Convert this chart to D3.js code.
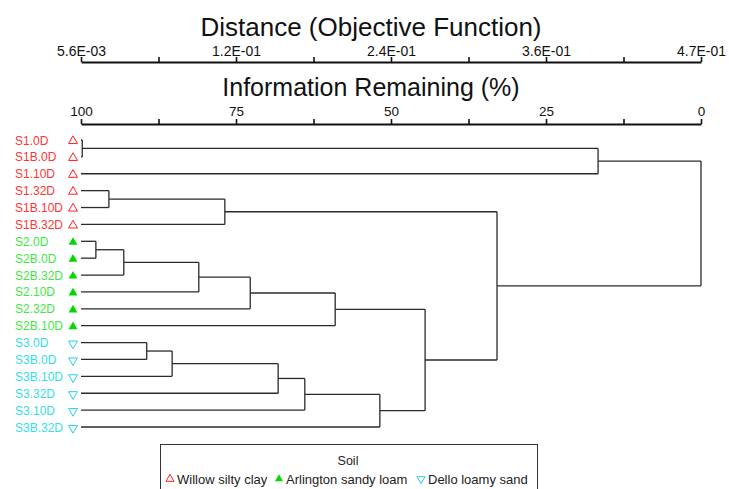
<!DOCTYPE html>
<html>
<head>
<meta charset="utf-8">
<script src="https://cdn.jsdelivr.net/npm/d3@7/dist/d3.min.js"></script>
<style>
  html, body { margin: 0; padding: 0; background: #fff; }
  svg { display: block; font-family: "Liberation Sans", Arial, sans-serif; }
</style>
</head>
<body>
<svg id="chart" width="729" height="489"></svg>
<script>
// Sample labels in dendrogram order
const leaves = ["S1.0D","S1B.0D","S1.10D","S1.32D","S1B.10D","S1B.32D",
  "S2.0D","S2B.0D","S2B.32D","S2.10D","S2.32D","S2B.10D",
  "S3.0D","S3B.0D","S3B.10D","S3.32D","S3.10D","S3B.32D"];
// Soil group of each sample (index into soils)
const leafSoil = [0,0,0,0,0,0, 1,1,1,1,1,1, 2,2,2,2,2,2];
const soils = ["Willow silty clay","Arlington sandy loam","Dello loamy sand"];

// Agglomeration steps: [childA, childB, information remaining %]
// indices < 18 are samples, >= 18 refer to earlier merges
const mergeA = [0, 6, 3, 19, 12, 22, 21, 20, 24, 23, 27, 26, 28, 29, 25, 18, 33];
const mergeB = [1, 7, 4,  8, 13, 14,  9,  5, 10, 15, 16, 11, 17, 30, 31,  2, 32];
const mergeInfo = [99.8, 97.6, 95.5, 93.1, 89.4, 85.3, 81.0, 76.8, 72.7, 68.2, 63.9, 59.0, 51.8, 44.5, 32.9, 16.6, 0];

// Axis tick labels
const infoTicks = [100, 75, 50, 25, 0];
const distLabels = ["5.6E-03","1.2E-01","2.4E-01","3.6E-01","4.7E-01"];
const distMin = 0.0056, distMax = 0.47;

const soilText = ["#ff3535", "#3ee83e", "#35dde6"];
const soilMark = ["#ff2020", "#00d800", "#20d0ec"];

const svg = d3.select("#chart");
svg.append("rect").attr("width", 729).attr("height", 489).attr("fill", "#fff");

const x = d3.scaleLinear().domain([100, 0]).range([81, 701]);
const xDist = d3.scaleLinear().domain([distMin, distMax]).range([81, 701]);
const y = d3.scalePoint().domain(leaves).range([140, 427]);

// Build the tree from the merge list
const nodes = leaves.map((name, i) => ({ name, soil: leafSoil[i], info: 100 }));
mergeA.forEach((a, i) => {
  nodes.push({ children: [nodes[a], nodes[mergeB[i]]], info: mergeInfo[i] });
});
const root = d3.hierarchy(nodes[nodes.length - 1]);
root.eachAfter(n => {
  n.py = n.children ? (n.children[0].py + n.children[1].py) / 2 : y(n.data.name);
  n.px = x(n.data.info);
});

// Dendrogram elbows
const g = svg.append("g").attr("fill", "none").attr("stroke", "#2a2a2a").attr("stroke-width", 1.3);
root.descendants().filter(n => n.children).forEach(n => {
  const [c1, c2] = n.children;
  g.append("line").attr("x1", n.px).attr("x2", n.px).attr("y1", c1.py).attr("y2", c2.py);
  [c1, c2].forEach(c => {
    g.append("line").attr("x1", c.px).attr("x2", n.px).attr("y1", c.py).attr("y2", c.py);
  });
});

// Leaf labels and soil markers
const tri = d3.symbol(d3.symbolTriangle, 34);
root.leaves().forEach(n => {
  const s = n.data.soil;
  svg.append("text").attr("x", 15).attr("y", n.py + 4.5)
    .attr("font-size", 12).attr("fill", soilText[s]).text(n.data.name);
  const m = svg.append("path").attr("d", tri())
    .attr("transform", `translate(73,${n.py + 1})` + (s === 2 ? " rotate(180)" : ""));
  if (s === 1) m.attr("fill", soilMark[s]).attr("stroke", "none");
  else m.attr("fill", "none").attr("stroke", soilMark[s]).attr("stroke-width", 1);
});

// Top axis: distance
const distTickVals = d3.range(9).map(i => distMin + i * (distMax - distMin) / 8);
const topAxis = svg.append("g").attr("transform", "translate(0,62)")
  .call(d3.axisTop(xDist).tickValues(distTickVals).tickSizeInner(5).tickSizeOuter(0).tickPadding(1)
    .tickFormat((d, i) => i % 2 === 0 ? distLabels[i / 2] : ""));
// Bottom axis: information remaining
const infoTickVals = d3.range(9).map(i => 100 - i * 12.5);
const botAxis = svg.append("g").attr("transform", "translate(0,124)")
  .call(d3.axisTop(x).tickValues(infoTickVals).tickSizeInner(5).tickSizeOuter(0).tickPadding(3)
    .tickFormat(d => infoTicks.includes(d) ? d : ""));
[topAxis, botAxis].forEach(a => {
  a.select(".domain").attr("stroke", "#111").attr("stroke-width", 2.2);
  a.selectAll(".tick line").attr("stroke", "#111").attr("stroke-width", 1.6);
  a.selectAll(".tick text").attr("fill", "#111")
    .attr("font-family", "'Liberation Sans', Arial, sans-serif");
});
topAxis.selectAll(".tick text").attr("font-size", 14);
botAxis.selectAll(".tick text").attr("font-size", 13.5);

svg.append("text").attr("x", 371).attr("y", 36).attr("text-anchor", "middle")
  .attr("font-size", 26).attr("fill", "#111").text("Distance (Objective Function)");
svg.append("text").attr("x", 371).attr("y", 96).attr("text-anchor", "middle")
  .attr("font-size", 25).attr("fill", "#111").text("Information Remaining (%)");

// Legend
const lg = svg.append("g");
lg.append("rect").attr("x", 160.5).attr("y", 444.5).attr("width", 377).attr("height", 60)
  .attr("fill", "#fff").attr("stroke", "#333").attr("stroke-width", 1);
lg.append("text").attr("x", 348).attr("y", 465).attr("text-anchor", "middle")
  .attr("font-size", 12.5).attr("fill", "#222").text("Soil");
const legX = [170, 279, 421];
soils.forEach((s, i) => {
  const m = lg.append("path").attr("d", d3.symbol(d3.symbolTriangle, 28)())
    .attr("transform", `translate(${legX[i]},479)` + (i === 2 ? " rotate(180)" : ""));
  if (i === 1) m.attr("fill", soilMark[i]);
  else m.attr("fill", "none").attr("stroke", soilMark[i]).attr("stroke-width", 1);
  lg.append("text").attr("x", legX[i] + 7).attr("y", 483.5).attr("font-size", 13)
    .attr("fill", "#222").text(s);
});
</script>
</body>
</html>
